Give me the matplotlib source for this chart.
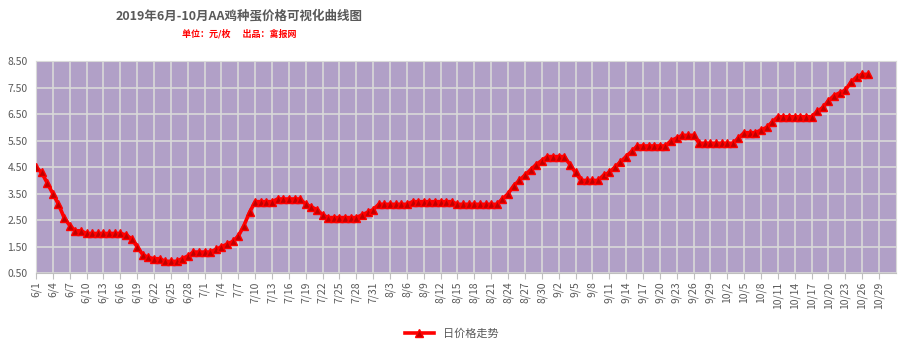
'''AA鸡种蛋价格可视化曲线图 2019年6月-10月'''
import matplotlib
matplotlib.use('Agg')
import matplotlib.pyplot as plt
import pandas as pd

plt.rcParams['font.family'] = ['Noto Sans CJK SC', 'DejaVu Sans']

TITLE = '2019年6月-10月AA鸡种蛋价格可视化曲线图'
SUBTITLE = '单位：元/枚      出品：禽报网'
SERIES_NAME = '日价格走势'

# daily price from 6/1 to 10/27 (yuan per egg)
prices = [
    4.5, 4.3, 3.9, 3.5, 3.1, 2.6, 2.3, 2.1, 2.1, 2.0,
    2.0, 2.0, 2.0, 2.0, 2.0, 2.0, 1.95, 1.8, 1.5, 1.2,
    1.1, 1.05, 1.05, 0.95, 0.95, 0.95, 1.05, 1.15, 1.3, 1.3,
    1.3, 1.3, 1.4, 1.5, 1.6, 1.7, 1.9, 2.3, 2.8, 3.2,
    3.2, 3.2, 3.2, 3.3, 3.3, 3.3, 3.3, 3.3, 3.1, 3.0,
    2.9, 2.7, 2.6, 2.6, 2.6, 2.6, 2.6, 2.6, 2.7, 2.8,
    2.9, 3.1, 3.1, 3.1, 3.1, 3.1, 3.1, 3.2, 3.2, 3.2,
    3.2, 3.2, 3.2, 3.2, 3.2, 3.1, 3.1, 3.1, 3.1, 3.1,
    3.1, 3.1, 3.1, 3.3, 3.5, 3.8, 4.0, 4.2, 4.4, 4.6,
    4.75, 4.9, 4.9, 4.9, 4.9, 4.6, 4.3, 4.0, 4.0, 4.0,
    4.0, 4.2, 4.3, 4.5, 4.7, 4.9, 5.1, 5.3, 5.3, 5.3,
    5.3, 5.3, 5.3, 5.5, 5.6, 5.7, 5.7, 5.7, 5.4, 5.4,
    5.4, 5.4, 5.4, 5.4, 5.4, 5.6, 5.8, 5.8, 5.8, 5.9,
    6.0, 6.2, 6.4, 6.4, 6.4, 6.4, 6.4, 6.4, 6.4, 6.6,
    6.75, 7.0, 7.2, 7.3, 7.4, 7.7, 7.9, 8.0, 8.0,
]

# category axis runs 6/1 .. 11/1
dates = pd.date_range('2019-06-01', '2019-11-01', freq='D')
date_labels = [f'{d.month}/{d.day}' for d in dates]
y_ticks = [0.5, 1.5, 2.5, 3.5, 4.5, 5.5, 6.5, 7.5, 8.5]

fig = plt.figure(figsize=(9.07, 3.51), dpi=100)
ax = fig.add_axes([0.0397, 0.2214, 0.948, 0.6046])
ax.set_facecolor('#B1A0C7')

ax.plot(range(len(prices)), prices, color='#FF0000', linewidth=2.6,
        marker='^', markersize=6, markerfacecolor='#C00000',
        markeredgecolor='#FF0000', markeredgewidth=1.0, label=SERIES_NAME,
        zorder=3)

ax.set_xlim(0, len(dates) - 1)
ax.set_ylim(0.5, 8.5)
ax.set_yticks(y_ticks)
ax.set_yticklabels([f'{v:.2f}' for v in y_ticks])
ax.set_xticks(range(0, len(dates) - 1, 3))
ax.set_xticklabels(date_labels[0:len(dates) - 1:3], rotation=90)

ax.grid(True, color='#D9D9D9', linewidth=1.2, zorder=0)
ax.set_axisbelow(True)
for side in ['top', 'right', 'left']:
    ax.spines[side].set_color('#D9D9D9')
ax.spines['bottom'].set_color('#BFBFBF')
ax.tick_params(axis='y', length=0, labelsize=7.5, labelcolor='#595959', pad=6)
ax.tick_params(axis='x', length=4, color='#BFBFBF', labelsize=7.5,
               labelcolor='#595959', pad=2)

fig.text(0.264, 0.955, TITLE, ha='center', va='center', fontsize=9,
         fontweight='bold', color='#595959')
fig.text(0.264, 0.905, SUBTITLE, ha='center', va='center', fontsize=6.5,
         fontweight='bold', color='#FF0000')

fig.legend(loc='center', bbox_to_anchor=(0.498, 0.048), frameon=False,
           fontsize=8, labelcolor='#595959', handlelength=2.6)

fig.savefig('out.png', dpi=100)
